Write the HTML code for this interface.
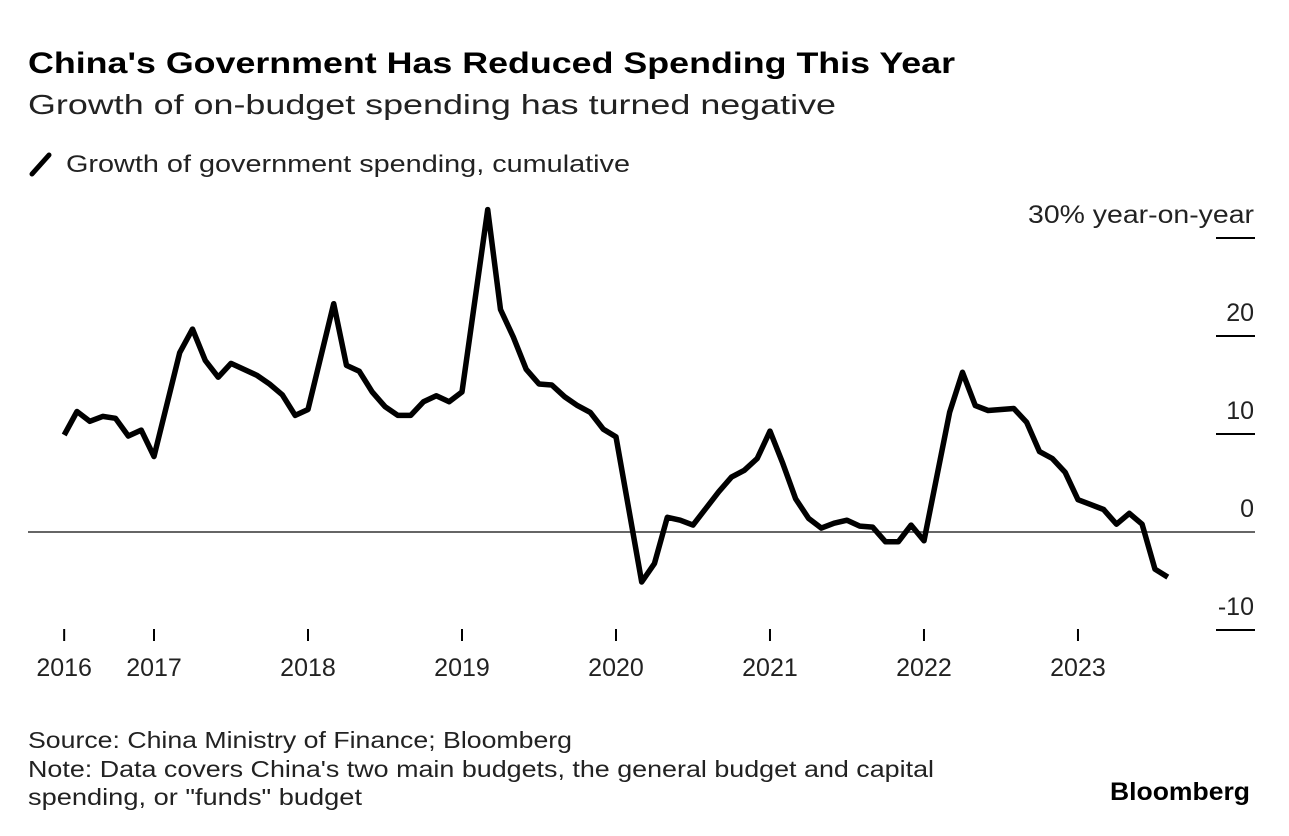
<!DOCTYPE html>
<html><head><meta charset="utf-8"><style>
html,body{margin:0;padding:0;background:#fff;}
svg{display:block;font-family:"Liberation Sans",Arial,sans-serif;}
</style></head><body>
<svg id="chart" width="1289" height="836" viewBox="0 0 1289 836">
<text x="28" y="73" font-size="30" font-weight="bold" textLength="927" lengthAdjust="spacingAndGlyphs">China's Government Has Reduced Spending This Year</text>
<text x="28" y="114" font-size="28" fill="#222" textLength="808" lengthAdjust="spacingAndGlyphs">Growth of on-budget spending has turned negative</text>
<g>
<line x1="32" y1="174" x2="49" y2="155" stroke="#000" stroke-width="5" stroke-linecap="round"/>
<text x="66" y="172" font-size="24" fill="#222" textLength="564" lengthAdjust="spacingAndGlyphs">Growth of government spending, cumulative</text>
</g>
<g id="yaxis"></g>
<line x1="28" y1="532" x2="1255" y2="532" stroke="#666" stroke-width="2"/>
<g id="xaxis"></g>
<g id="series"></g>
<text x="28" y="748" font-size="23" fill="#222" textLength="544" lengthAdjust="spacingAndGlyphs">Source: China Ministry of Finance; Bloomberg</text>
<text x="28" y="777" font-size="23" fill="#222" textLength="906" lengthAdjust="spacingAndGlyphs">Note: Data covers China's two main budgets, the general budget and capital</text>
<text x="28" y="805" font-size="23" fill="#222" textLength="334" lengthAdjust="spacingAndGlyphs">spending, or "funds" budget</text>
<text x="1250" y="800" font-size="25" font-weight="bold" text-anchor="end" textLength="140" lengthAdjust="spacingAndGlyphs">Bloomberg</text>
</svg>
<script>
// months since Jan 2016
const months = [5,6,7,8,9,10,11,12,14,15,16,17,18,20,21,22,23,24,26,27,28,29,30,31,32,33,34,35,36,38,39,40,41,42,43,44,45,46,47,48,50,51,52,53,54,55,56,57,58,59,60,61,62,63,64,65,66,67,68,69,70,71,72,74,75,76,77,78,79,80,81,82,83,84,85,86,87,88,89,90,91];
const values = [9.9,12.3,11.3,11.8,11.6,9.8,10.4,7.7,18.3,20.7,17.5,15.8,17.2,16.0,15.1,14.0,11.9,12.5,23.3,17.0,16.4,14.3,12.8,11.9,11.9,13.3,13.9,13.3,14.3,32.9,22.7,19.9,16.6,15.1,15.0,13.8,12.9,12.2,10.5,9.7,-5.1,-3.2,1.5,1.2,0.7,2.4,4.1,5.6,6.3,7.5,10.3,7.0,3.4,1.4,0.4,0.9,1.2,0.6,0.5,-1.0,-1.0,0.7,-0.9,12.2,16.3,12.9,12.4,12.5,12.6,11.2,8.2,7.5,6.1,3.3,2.8,2.3,0.8,1.9,0.8,-3.8,-4.6];
const yTicks = [30,20,10,0,-10];
const yTickLabels = ["30% year-on-year","20","10","0","-10"];
const xTickMonths = [5,12,24,36,48,60,72,84];
const xTickLabels = ["2016","2017","2018","2019","2020","2021","2022","2023"];

const NS="http://www.w3.org/2000/svg";
function xs(m){return 154+(m-12)*12.833;}
function ys(v){return 532-v*9.8;}
function mk(tag,attrs,parent){const e=document.createElementNS(NS,tag);for(const k in attrs)e.setAttribute(k,attrs[k]);parent.appendChild(e);return e;}

const yg=document.getElementById('yaxis');
yTicks.forEach((t,i)=>{
  const l=mk('line',{x1:1216,x2:1255,y1:ys(t),y2:ys(t),stroke:'#000','stroke-width':2},yg);
  
  
  const tx=mk('text',{x:1254,y:ys(t)-15,'font-size':25,'text-anchor':'end',fill:'#222'},yg);
  
  
  if(i===0){tx.setAttribute('textLength',226);tx.setAttribute('lengthAdjust','spacingAndGlyphs');}
  tx.textContent=yTickLabels[i];
});
const xg=document.getElementById('xaxis');
xTickMonths.forEach((m,i)=>{
  const l=mk('line',{x1:xs(m),x2:xs(m),y1:629,y2:641,stroke:'#000','stroke-width':2},xg);
  
  
  const tx=mk('text',{x:xs(m),y:676,'font-size':25,'text-anchor':'middle',fill:'#222'},xg);
  
  
  tx.textContent=xTickLabels[i];
});
const sg=document.getElementById('series');
const d=months.map((m,i)=>(i?'L':'M')+xs(m).toFixed(1)+','+ys(values[i]).toFixed(1)).join('');
const p=mk('path',{d:d,fill:'none',stroke:'#000','stroke-width':5.5,'stroke-linejoin':'round'},sg);


</script>
</body></html>
